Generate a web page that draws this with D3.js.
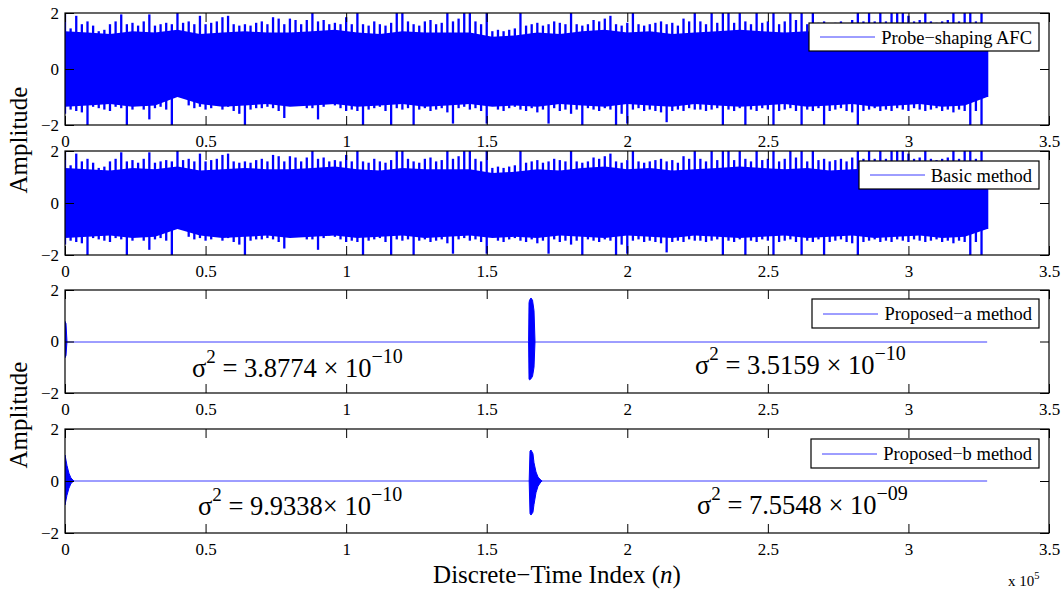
<!DOCTYPE html>
<html>
<head>
<meta charset="utf-8">
<script src="https://cdn.jsdelivr.net/npm/d3@7"></script>
<style>
  body { margin: 0; background: #fff; }
  text { font-family: "Liberation Serif", "Times New Roman", serif; fill: #000; }
</style>
</head>
<body>
<svg id="chart" width="1062" height="589"></svg>
<script>

// x ticks are in units of 10^5 samples
var xTicks = [0, 0.5, 1, 1.5, 2, 2.5, 3, 3.5],
    yTicks = [-2, 0, 2];

var signalLength = 328000,
    binSize = 2000,
    bodyStep = 8000;

// peak max / min of the loudspeaker signal in each 2000-sample block
var noiseUpper = [
  2.1, 1.45, 1.9, 1.6, 1.7, 1.55, 1.35, 1.4, 1.6, 1.7,
  1.95, 1.6, 1.65, 1.55, 1.7, 1.95, 1.55, 1.6, 1.65, 1.6,
  2.05, 1.65, 1.7, 1.6, 1.9, 1.6, 1.65, 1.7, 1.85, 1.9,
  1.6, 1.55, 1.6, 1.55, 1.65, 1.7, 1.6, 1.85, 1.8, 1.6,
  1.8, 1.75, 1.6, 1.75, 2.05, 1.7, 1.75, 1.6, 1.65, 1.6,
  1.85, 1.6, 2.05, 1.6, 1.55, 1.7, 1.6, 1.55, 1.65, 2.0,
  2.05, 1.7, 1.6, 1.55, 1.7, 1.75, 1.6, 1.65, 2.05, 1.7,
  1.8, 2.05, 2.0, 1.7, 1.6, 2.0, 1.35, 1.4, 1.35, 1.4,
  1.45, 2.0, 1.55, 1.6, 1.65, 1.55, 1.6, 1.7, 1.65, 1.6,
  2.0, 1.6, 1.55, 1.6, 1.75, 1.7, 1.8, 1.9, 1.6, 1.55,
  1.65, 2.0, 1.6, 1.55, 1.6, 1.65, 1.7, 1.6, 1.65, 1.55,
  1.8, 1.7, 2.05, 1.7, 1.6, 2.0, 1.65, 2.05, 2.0, 1.65,
  2.05, 1.7, 1.6, 2.0, 1.65, 1.7, 2.05, 1.6, 1.7, 2.0,
  1.75, 2.05, 1.6, 2.0, 1.65, 1.7, 1.6, 1.65, 1.7, 1.6,
  1.75, 2.05, 1.7, 2.05, 1.7, 2.05, 1.7, 2.05, 2.0, 2.05,
  1.9, 1.7, 1.75, 2.0, 1.7, 1.65, 1.7, 1.75, 2.0, 1.7,
  2.05, 2.05, 1.7, 2.0, 1.3
];
var noiseLower = [
  -1.6, -1.45, -1.5, -1.55, -2.0, -1.35, -1.4, -1.45, -1.5, -1.35,
  -1.4, -2.0, -1.45, -1.3, -1.45, -1.8, -1.4, -1.35, -1.45, -2.05,
  -0.95, -1.0, -1.3, -1.4, -1.35, -1.45, -1.4, -1.3, -1.45, -1.35,
  -1.5, -1.6, -2.0, -1.45, -1.4, -1.4, -1.35, -1.4, -1.5, -1.75,
  -1.3, -1.15, -1.25, -1.4, -1.4, -1.8, -1.35, -1.25, -1.3, -1.4,
  -1.5, -1.45, -1.5, -2.0, -1.45, -1.4, -1.35, -1.5, -2.05, -1.4,
  -1.45, -1.4, -2.0, -1.45, -1.4, -1.5, -1.45, -1.4, -1.55, -1.95,
  -1.4, -1.35, -1.45, -1.4, -1.5, -1.95, -1.3, -1.45, -1.5, -1.4,
  -1.35, -1.45, -1.5, -1.4, -1.55, -1.45, -1.95, -1.4, -1.5, -1.45,
  -1.6, -1.45, -2.0, -1.4, -1.45, -1.5, -1.4, -1.45, -2.0, -1.6,
  -1.95, -1.45, -1.4, -1.5, -1.45, -1.5, -1.55, -1.9, -1.5, -1.45,
  -1.5, -1.4, -1.45, -1.45, -1.5, -1.45, -1.4, -2.0, -1.45, -1.5,
  -1.4, -2.0, -1.45, -1.5, -1.4, -1.45, -2.0, -1.5, -1.45, -1.4,
  -1.5, -2.0, -1.45, -1.5, -1.4, -2.0, -1.5, -1.45, -1.4, -1.5,
  -1.55, -2.05, -1.5, -1.45, -1.4, -1.5, -1.45, -1.5, -1.4, -1.45,
  -1.5, -1.4, -1.45, -1.5, -1.45, -1.4, -1.5, -1.45, -1.55, -1.45,
  -1.5, -2.0, -1.5, -2.0, -1.0
];

// dense core of the same signal, every 8000 samples
var bodyUpper = [
  1.35, 1.3, 1.25, 1.35, 1.3, 1.4, 1.25, 1.3, 1.35, 1.3,
  1.3, 1.35, 1.4, 1.3, 1.25, 1.35, 1.3, 1.3, 1.3, 1.15,
  1.2, 1.3, 1.25, 1.35, 1.4, 1.3, 1.35, 1.25, 1.3, 1.35,
  1.4, 1.35, 1.3, 1.35, 1.25, 1.3, 1.35, 1.4, 1.3, 1.35,
  1.3, 0.9
];
var bodyLower = [
  -1.35, -1.3, -1.25, -1.35, -1.3, -1.0, -1.25, -1.35, -1.3, -1.25,
  -1.35, -1.3, -1.25, -1.35, -1.3, -1.25, -1.35, -1.3, -1.25, -1.35,
  -1.3, -1.35, -1.25, -1.3, -1.35, -1.25, -1.3, -1.35, -1.25, -1.3,
  -1.35, -1.3, -1.25, -1.35, -1.3, -1.25, -1.35, -1.3, -1.25, -1.35,
  -1.3, -1.0
];

// error-signal bursts (sample index, upper and lower envelope)
var aStartN = [0, 350, 700],
    aStartUp = [0.78, 0.7, 0],
    aStartLo = [-0.63, -0.55, 0];
var aBurstN = [164900, 165050, 165220, 165750, 166300, 166820, 167180],
    aBurstUp = [0, 1.5, 1.6, 1.69, 1.6, 1.2, 0],
    aBurstLo = [0, -1.45, -1.49, -1.45, -1.35, -1.0, 0];

var bStartN = [0, 700, 1400, 2100, 2800, 3200],
    bStartUp = [1.0, 0.6, 0.3, 0.12, 0.04, 0],
    bStartLo = [-0.92, -0.55, -0.28, -0.1, -0.03, 0];
var bBurstN = [165100, 165400, 165750, 166450, 166820, 167530, 168250, 169300, 169700],
    bBurstUp = [0, 1.15, 1.19, 1.05, 0.7, 0.35, 0.15, 0.03, 0],
    bBurstLo = [0, -1.25, -1.31, -1.2, -0.9, -0.45, -0.2, -0.03, 0];

var legendNames = ["Probe\u2212shaping AFC", "Basic method", "Proposed\u2212a method", "Proposed\u2212b method"];

var varianceNotes = [
  null,
  null,
  [{mant: "3.8774 \u00d7 10", exp: "\u221210"}, {mant: "3.5159 \u00d7 10", exp: "\u221210"}],
  [{mant: "9.9338\u00d7 10", exp: "\u221210"}, {mant: "7.5548 \u00d7 10", exp: "\u221209"}]
];

var svg = d3.select("#chart");
svg.append("rect").attr("width", 1062).attr("height", 589).attr("fill", "#fff");

var left = 65, right = 1049;
var panels = [
  {top: 13, bottom: 125, legend: {x: 809, y: 23, w: 230, h: 28}, notes: null},
  {top: 151, bottom: 255, legend: {x: 859, y: 161, w: 180, h: 28}, notes: null},
  {top: 290, bottom: 393, legend: {x: 812, y: 299, w: 227, h: 29}, notes: [{x: 192, y: 377}, {x: 695, y: 374}]},
  {top: 429, bottom: 533, legend: {x: 811, y: 439, w: 228, h: 29}, notes: [{x: 198, y: 515}, {x: 697, y: 514}]}
];

var x = d3.scaleLinear().domain([0, 3.5]).range([left, right]);
function xs(n) { return x(n / 1e5); }

var noiseBins = noiseUpper.map(function(u, i) {
  return {n: Math.min(i * binSize, signalLength), up: u, lo: noiseLower[i]};
});
var bodyPts = bodyUpper.map(function(u, i) {
  return {n: Math.min(i * bodyStep, signalLength), up: u, lo: bodyLower[i]};
});

function zip(ns, ups, los) {
  return ns.map(function(n, i) { return {n: n, up: ups[i], lo: los[i]}; });
}

var fmtY = function(d) { return d < 0 ? "\u2212" + (-d) : String(d); };

panels.forEach(function(p, k) {
  var y = d3.scaleLinear().domain([-2, 2]).range([p.bottom, p.top]);
  var g = svg.append("g");

  var clipId = "clip" + k;
  svg.append("clipPath").attr("id", clipId)
    .append("rect")
      .attr("x", left).attr("y", p.top)
      .attr("width", right - left).attr("height", p.bottom - p.top);

  var plot = g.append("g").attr("clip-path", "url(#" + clipId + ")");

  var area = d3.area()
      .x(function(d) { return xs(d.n); })
      .y0(function(d) { return y(d.lo); })
      .y1(function(d) { return y(d.up); });

  if (k < 2) {
    plot.append("path")
        .datum(bodyPts)
        .attr("d", area)
        .attr("fill", "#0000ff");
    plot.selectAll("line.peak")
        .data(noiseBins)
      .enter().append("line")
        .attr("class", "peak")
        .attr("x1", function(d) { return xs(d.n); })
        .attr("x2", function(d) { return xs(d.n); })
        .attr("y1", function(d) { return y(d.lo); })
        .attr("y2", function(d) { return y(d.up); })
        .attr("stroke", "#0000ff")
        .attr("stroke-width", 2.3);
  } else {
    var y0 = Math.round(y(0));
    plot.append("path")
        .datum([0, signalLength])
        .attr("d", d3.line().x(function(d) { return xs(d); }).y(y0))
        .attr("stroke", "#3c3cff")
        .attr("stroke-width", 1)
        .attr("fill", "none");

    var bursts = k === 2
      ? [zip(aStartN, aStartUp, aStartLo), zip(aBurstN, aBurstUp, aBurstLo)]
      : [zip(bStartN, bStartUp, bStartLo), zip(bBurstN, bBurstUp, bBurstLo)];

    bursts.forEach(function(b) {
      plot.append("path")
          .datum(b)
          .attr("d", area)
          .attr("fill", "#0000ff")
          .attr("stroke", "#0000ff")
          .attr("stroke-width", 1);
    });
  }

  // axes: inward ticks on all four sides, labels on bottom and left
  g.append("g")
      .attr("transform", "translate(0," + p.bottom + ")")
      .call(d3.axisBottom(x).tickValues(xTicks).tickSize(-9).tickPadding(10)
        .tickFormat(function(d) { return d; }));
  g.append("g")
      .attr("transform", "translate(0," + p.top + ")")
      .call(d3.axisTop(x).tickValues(xTicks).tickSize(-9).tickFormat(""));
  g.append("g")
      .attr("transform", "translate(" + left + ",0)")
      .call(d3.axisLeft(y).tickValues(yTicks).tickSize(-9).tickPadding(6).tickFormat(fmtY));
  g.append("g")
      .attr("transform", "translate(" + right + ",0)")
      .call(d3.axisRight(y).tickValues(yTicks).tickSize(-9).tickFormat(""));

  g.selectAll(".domain").remove();
  g.selectAll(".tick line").attr("stroke", "#000");
  g.selectAll(".tick text")
      .attr("font-family", "Liberation Serif, Times New Roman, serif")
      .attr("font-size", 17)
      .attr("fill", "#000");

  g.append("rect")
      .attr("x", left).attr("y", p.top)
      .attr("width", right - left).attr("height", p.bottom - p.top)
      .attr("fill", "none")
      .attr("stroke", "#000")
      .attr("stroke-width", 1.2);

  // legend
  var L = p.legend;
  var ly = Math.round(L.y + L.h / 2);
  var lg = g.append("g");
  lg.append("rect")
      .attr("x", L.x).attr("y", L.y).attr("width", L.w).attr("height", L.h)
      .attr("fill", "#fff").attr("stroke", "#000").attr("stroke-width", 1.2);
  lg.append("line")
      .attr("x1", L.x + 11).attr("x2", L.x + 66)
      .attr("y1", ly).attr("y2", ly)
      .attr("stroke", "#3c3cff").attr("stroke-width", 1);
  lg.append("text")
      .attr("x", L.x + L.w - 7)
      .attr("y", L.y + L.h / 2 + 6.5)
      .attr("text-anchor", "end")
      .attr("font-size", 18.5)
      .text(legendNames[k]);

  // residual variance notes
  if (p.notes) {
    p.notes.forEach(function(pos, j) {
      var v = varianceNotes[k][j];
      var t = g.append("text")
          .attr("x", pos.x).attr("y", pos.y)
          .attr("font-size", 26.5);
      t.append("tspan").text("\u03c3");
      t.append("tspan").attr("dy", -14).attr("font-size", 19).text("2");
      t.append("tspan").attr("dy", 14).text(" = " + v.mant);
      t.append("tspan").attr("dy", -14).attr("font-size", 20).text(v.exp);
    });
  }
});

// axis titles
svg.append("text")
    .attr("transform", "translate(27,140) rotate(-90)")
    .attr("text-anchor", "middle")
    .attr("font-size", 25)
    .text("Amplitude");
svg.append("text")
    .attr("transform", "translate(27,415) rotate(-90)")
    .attr("text-anchor", "middle")
    .attr("font-size", 25)
    .text("Amplitude");

var xl = svg.append("text")
    .attr("x", 557).attr("y", 583)
    .attr("text-anchor", "middle")
    .attr("font-size", 25);
xl.append("tspan").text("Discrete\u2212Time Index (");
xl.append("tspan").attr("font-style", "italic").text("n");
xl.append("tspan").text(")");

var ex = svg.append("text")
    .attr("x", 1008).attr("y", 586)
    .attr("font-size", 15);
ex.append("tspan").text("x 10");
ex.append("tspan").attr("dy", -7).attr("font-size", 10.5).text("5");

</script>
</body>
</html>
